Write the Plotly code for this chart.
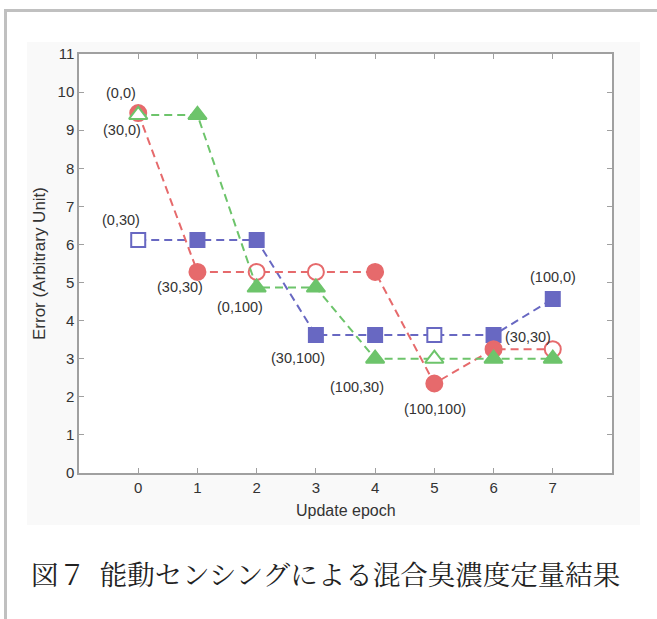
import plotly.graph_objects as go

# ---- data ----
epochs = [0, 1, 2, 3, 4, 5, 6, 7]
red_vals = [9.45, 5.28, 5.28, 5.28, 5.28, 2.35, 3.25, 3.25]
red_open = [False, False, True, True, False, False, False, True]
blue_vals = [6.12, 6.12, 6.12, 3.62, 3.62, 3.62, 3.62, 4.57]
blue_open = [True, False, False, False, False, True, False, False]
green_vals = [9.40, 9.40, 4.87, 4.87, 3.00, 3.00, 3.00, 3.00]
green_open = [True, False, False, False, False, True, False, False]

label_texts = ["(0,0)", "(30,0)", "(0,30)", "(30,30)", "(0,100)", "(30,100)",
               "(100,30)", "(100,100)", "(30,30)", "(100,0)"]
label_x = [-0.29, -0.28, -0.29, 0.70, 1.72, 2.70, 3.69, 5.01, 6.58, 7.00]
label_y = [9.98, 9.00, 6.64, 4.89, 4.36, 3.02, 2.27, 1.68, 3.58, 5.15]

x_ticks = [0, 1, 2, 3, 4, 5, 6, 7]
y_ticks = list(range(0, 12))

caption = "図７\u2002能動センシングによる混合臭濃度定量結果"
x_title = "Update epoch"
y_title = "Error (Arbitrary Unit)"

RED = "#E66A6C"
BLUE = "#6868C2"
GREEN = "#6DC46B"

W, H = 657, 619
L, R, T, B = 79, 45, 54, 146
PW, PH = W - L - R, H - T - B


def px(x):
    return (x - L) / PW


def py(y):
    return 1 - (y - T) / PH


fig = go.Figure()


def add_series(vals, opens, color, sym, size):
    fills = ["white" if o else color for o in opens]
    fig.add_trace(go.Scatter(
        x=epochs, y=vals, mode="lines",
        line=dict(color=color, width=2, dash="8px,5px"),
        hoverinfo="skip", showlegend=False))
    fig.add_trace(go.Scatter(
        x=epochs, y=vals, mode="markers",
        marker=dict(symbol=sym, size=size, color=fills,
                    line=dict(color=color, width=2)),
        showlegend=False))


add_series(blue_vals, blue_open, BLUE, "square", 14)
add_series(red_vals, red_open, RED, "circle", 16)
add_series(green_vals, green_open, GREEN, "triangle-up", 16)

for t, x, y in zip(label_texts, label_x, label_y):
    fig.add_annotation(x=x, y=y, text=t, showarrow=False,
                       font=dict(family="Liberation Sans, Arial", size=14.5, color="#333333"))

fig.add_annotation(xref="paper", yref="paper", x=px(325.5), y=py(573),
                   text=caption, showarrow=False, xanchor="center", yanchor="middle",
                   font=dict(family="Noto Serif CJK JP, Noto Sans CJK JP", size=27.5, color="#222222"))

fig.add_annotation(xref="paper", yref="paper", x=px(345.5), y=py(510.5),
                   text=x_title, showarrow=False, xanchor="center", yanchor="middle",
                   font=dict(family="Liberation Sans, Arial", size=16, color="#333333"))
fig.add_annotation(xref="paper", yref="paper", x=px(39.5), y=py(263.5),
                   text=y_title, showarrow=False, textangle=-90, xanchor="center", yanchor="middle",
                   font=dict(family="Liberation Sans, Arial", size=17, color="#333333"))

# background panel and frame
fig.add_shape(type="rect", xref="paper", yref="paper", layer="below",
              x0=px(27), x1=px(640), y0=py(525), y1=py(42),
              fillcolor="#f9f9f9", line=dict(width=0))
fig.add_shape(type="rect", xref="paper", yref="paper", layer="below",
              x0=0, x1=1, y0=0, y1=1, fillcolor="white", line=dict(width=0))
fig.add_shape(type="line", xref="paper", yref="paper", x0=px(5.5), x1=px(5.5),
              y0=py(10), y1=py(640), line=dict(color="#c0c0c0", width=3))
fig.add_shape(type="line", xref="paper", yref="paper", x0=px(4), x1=px(680),
              y0=py(10.5), y1=py(10.5), line=dict(color="#c0c0c0", width=3))

axis_common = dict(showgrid=False, zeroline=False, showline=True, linecolor="#a0a0a0",
                   linewidth=1.5, mirror="ticks", ticks="inside", ticklen=5,
                   tickcolor="#a0a0a0", tickwidth=1,
                   tickfont=dict(family="Liberation Sans, Arial", size=15, color="#333333"))

fig.update_xaxes(range=[-1, 8], tickvals=x_ticks, **axis_common)
fig.update_yaxes(range=[0, 11], tickvals=y_ticks, **axis_common)

fig.update_layout(width=W, height=H, margin=dict(l=L, r=R, t=T, b=B, autoexpand=False),
                  paper_bgcolor="white", plot_bgcolor="white", showlegend=False)

fig.write_html("out.html", config={"displayModeBar": False},
               post_script="document.body.style.margin='0';document.body.style.overflow='hidden';")
